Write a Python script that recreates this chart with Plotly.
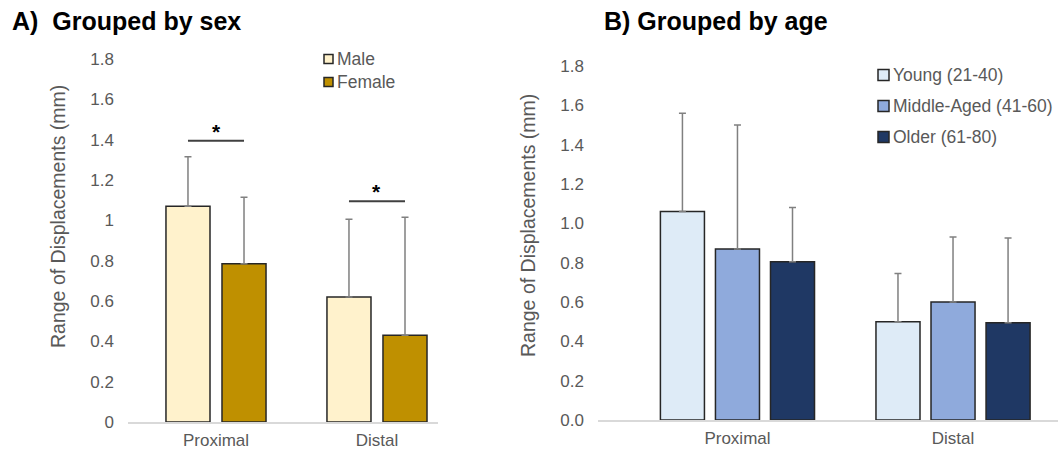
import plotly.graph_objects as go

W, H = 1060, 451

# ---------------- data ----------------
categories = ["Proximal", "Distal"]

sex_names = ["Male", "Female"]
sex_colors = ["#FFF2CC", "#BF9000"]
male_vals = [1.07, 0.62]
male_err = [0.245, 0.385]
female_vals = [0.785, 0.43]
female_err = [0.33, 0.585]

age_names = ["Young (21-40)", "Middle-Aged (41-60)", "Older (61-80)"]
age_colors = ["#DEEBF7", "#8FAADC", "#1F3864"]
young_vals = [1.06, 0.50]
young_err = [0.50, 0.245]
middle_vals = [0.87, 0.60]
middle_err = [0.63, 0.33]
older_vals = [0.805, 0.495]
older_err = [0.275, 0.43]

# significance brackets in panel A: (category index, series a, series b)
sig_pairs = [(0, 0, 1), (1, 0, 1)]

y_ticks = [0, 0.2, 0.4, 0.6, 0.8, 1.0, 1.2, 1.4, 1.6, 1.8]

# ---------------- style ----------------
FONT = "Liberation Sans, Arial, sans-serif"
GRAY = "#595959"
OUTLINE = "#262626"
ERRC = "#808080"


def px_x(p):
    return p / W


def px_y(p):
    return 1 - p / H


def group_geometry(n, bargap, bargroupgap):
    slot = (1 - bargap) / n
    width = slot * (1 - bargroupgap)
    offs = []
    for i in range(n):
        center = (i - (n - 1) / 2) * slot
        offs.append(center - width / 2)
    return width, offs


fig = go.Figure()

# panel A
sex_vals = [male_vals, female_vals]
sex_errs = [male_err, female_err]
wA, offA = group_geometry(2, 0.304, 0.214)
for i, name in enumerate(sex_names):
    fig.add_trace(go.Bar(
        x=categories, y=sex_vals[i], name=name, xaxis="x", yaxis="y",
        width=wA, offset=offA[i],
        marker=dict(color=sex_colors[i], line=dict(color=OUTLINE, width=1.5)),
        error_y=dict(type="data", symmetric=False, array=sex_errs[i],
                     arrayminus=[0] * len(categories), color=ERRC,
                     thickness=1.5, width=3.5),
        showlegend=False,
    ))

# panel B
age_vals = [young_vals, middle_vals, older_vals]
age_errs = [young_err, middle_err, older_err]
wB, offB = group_geometry(3, 0.234, 0.2)
for i, name in enumerate(age_names):
    fig.add_trace(go.Bar(
        x=categories, y=age_vals[i], name=name, xaxis="x2", yaxis="y2",
        width=wB, offset=offB[i],
        marker=dict(color=age_colors[i], line=dict(color=OUTLINE, width=1.5)),
        error_y=dict(type="data", symmetric=False, array=age_errs[i],
                     arrayminus=[0] * len(categories), color=ERRC,
                     thickness=1.5, width=3.5),
        showlegend=False,
    ))

shapes = []
annotations = []

# significance brackets
for cat, a, b in sig_pairs:
    xa = cat + offA[a] + wA / 2
    xb = cat + offA[b] + wA / 2
    ytop = max(sex_vals[a][cat] + sex_errs[a][cat], sex_vals[b][cat] + sex_errs[b][cat]) + 0.08
    shapes.append(dict(type="line", xref="x", yref="y", x0=xa, x1=xb, y0=ytop, y1=ytop,
                       line=dict(color="#404040", width=2)))
    annotations.append(dict(text="<b>*</b>", xref="x", yref="y", x=(xa + xb) / 2, y=ytop,
                            yanchor="bottom", xanchor="center", showarrow=False, yshift=-4,
                            font=dict(family=FONT, size=21, color="#000000")))

# manual legends
def add_legend(names, colors, x_sq, sq, x_txt, ys):
    for name, col, yy in zip(names, colors, ys):
        shapes.append(dict(type="rect", xref="paper", yref="paper",
                           x0=px_x(x_sq), x1=px_x(x_sq + sq),
                           y0=px_y(yy + sq / 2), y1=px_y(yy - sq / 2),
                           fillcolor=col, line=dict(color=OUTLINE, width=1.5)))
        annotations.append(dict(text=name, xref="paper", yref="paper",
                                x=px_x(x_txt), y=px_y(yy), xanchor="left", yanchor="middle",
                                showarrow=False,
                                font=dict(family=FONT, size=17.5, color=GRAY)))

add_legend(sex_names, sex_colors, 324, 9, 335, [59, 82])
add_legend(age_names, age_colors, 878, 11, 891, [75, 106, 137])

# panel titles
annotations.append(dict(text="<b>A)\u00a0\u00a0Grouped by sex</b>", xref="paper", yref="paper",
                        x=px_x(10), y=px_y(21), xanchor="left", yanchor="middle", showarrow=False,
                        font=dict(family=FONT, size=25, color="#000000")))
annotations.append(dict(text="<b>B) Grouped by age</b>", xref="paper", yref="paper",
                        x=px_x(602), y=px_y(21), xanchor="left", yanchor="middle", showarrow=False,
                        font=dict(family=FONT, size=25, color="#000000")))

# y-axis titles
for xc, yc in [(58, 217), (528, 226)]:
    annotations.append(dict(text="Range of Displacements (mm)", xref="paper", yref="paper",
                            x=px_x(xc), y=px_y(yc), xanchor="center", yanchor="middle",
                            textangle=-90, showarrow=False,
                            font=dict(family=FONT, size=19.5, color=GRAY)))

tickfont = dict(family=FONT, size=17, color=GRAY)

common_x = dict(type="category", showline=True, linecolor="#D9D9D9", linewidth=1.5,
                showgrid=False, zeroline=False, ticks="", tickfont=tickfont,
                ticklabelstandoff=2, fixedrange=True, automargin=False)
common_y = dict(range=[0, 1.8], tickvals=y_ticks, showline=False, showgrid=False,
                zeroline=False, ticks="", tickfont=tickfont, ticklabelstandoff=13,
                fixedrange=True, automargin=False)

fig.update_layout(
    width=W, height=H, autosize=False,
    margin=dict(l=0, r=0, t=0, b=0, pad=0),
    paper_bgcolor="white", plot_bgcolor="white",
    barmode="overlay",
    showlegend=False,
    font=dict(family=FONT, color=GRAY),
    xaxis=dict(domain=[px_x(128), px_x(438)], anchor="y", range=[-0.5466, 1.379], **common_x),
    yaxis=dict(domain=[px_y(422), px_y(59)], anchor="x", **common_y),
    xaxis2=dict(domain=[px_x(598), px_x(1058)], anchor="y2", range=[-0.647, 1.487], **common_x),
    yaxis2=dict(domain=[px_y(420), px_y(66)], anchor="x2", tickformat=".1f", **common_y),
    shapes=shapes,
    annotations=annotations,
)

fig.write_html(
    "out.html",
    config={"displayModeBar": False},
    post_script=("document.body.style.margin='0';document.body.style.padding='0';"
                 "document.documentElement.style.overflow='hidden';"),
)
